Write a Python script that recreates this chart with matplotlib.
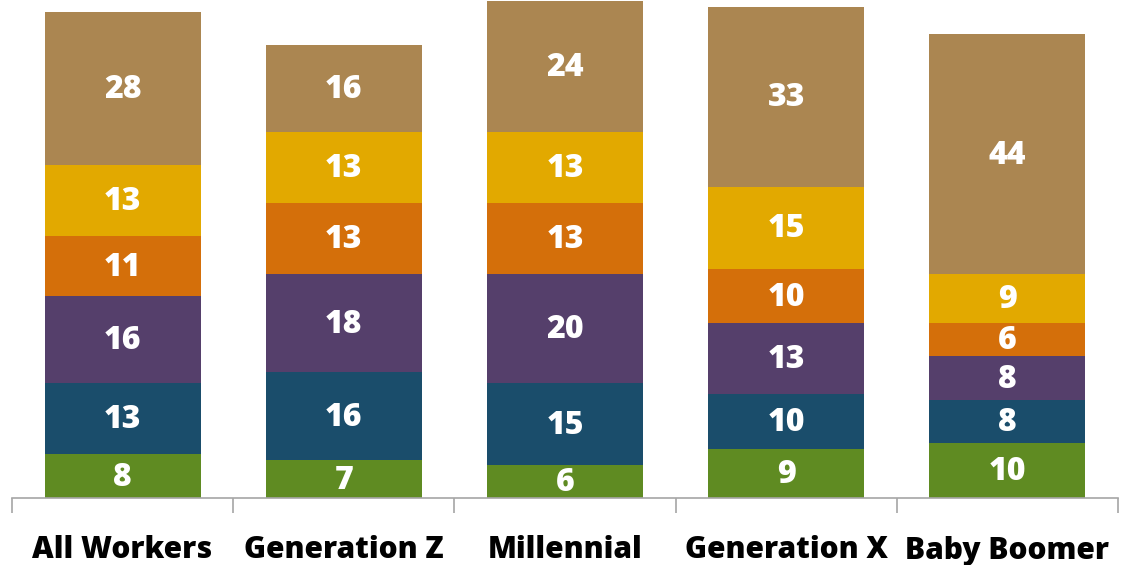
import matplotlib.pyplot as plt
import numpy as np

groups = ['All Workers', 'Generation Z', 'Millennial', 'Generation X', 'Baby Boomer']

# stacked segments, bottom to top
seg1 = [8, 7, 6, 9, 10]
seg2 = [13, 16, 15, 10, 8]
seg3 = [16, 18, 20, 13, 8]
seg4 = [11, 13, 13, 10, 6]
seg5 = [13, 13, 13, 15, 9]
seg6 = [28, 16, 24, 33, 44]

series = [seg1, seg2, seg3, seg4, seg5, seg6]
colors = ['#5f8b22', '#1a4d6b', '#553f6b', '#d46f0a', '#e2a900', '#ab8651']

plt.rcParams['font.family'] = ['Open Sans', 'DejaVu Sans']

fig = plt.figure(figsize=(11.22, 5.65), dpi=100)
ax = fig.add_axes([12 / 1122, 67 / 565, 1106 / 1122, 498 / 565])

x = np.arange(len(groups))
bottom = np.zeros(len(groups))
for vals, c in zip(series, colors):
    vals = np.array(vals, dtype=float)
    ax.bar(x, vals, width=0.705, bottom=bottom, color=c, edgecolor='none')
    for xi, b, v in zip(x, bottom, vals):
        ax.text(xi, b + v / 2 - 0.3, f'{v:.0f}', ha='center', va='center',
                color='white', fontsize=23, fontweight=800)
    bottom += vals

ax.set_xlim(-0.5, len(groups) - 0.5)
ax.set_ylim(0, 91.2)

for s in ['top', 'right', 'left']:
    ax.spines[s].set_visible(False)
ax.spines['bottom'].set_color('#a6a6a6')
ax.spines['bottom'].set_linewidth(1.2)
ax.set_yticks([])

# tick marks sit between the categories
ax.set_xticks(np.arange(-0.5, len(groups)), minor=False)
ax.set_xticklabels([])
ax.tick_params(axis='x', which='major', length=11, width=1.2, color='#a6a6a6')
ax.set_xticks(x, minor=True)
ax.set_xticklabels(groups, minor=True, fontsize=21.5, fontweight=800)
ax.tick_params(axis='x', which='minor', length=0, pad=27)

fig.savefig('out.png', dpi=100)
